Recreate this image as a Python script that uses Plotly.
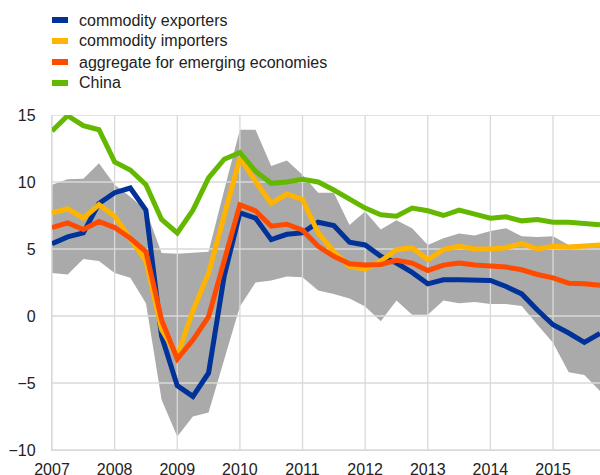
import plotly.graph_objects as go

# Quarterly observations, 2007 Q1 .. 2015 Q4
start_year = 2007
n_quarters = 36
quarters = [start_year + i / 4 for i in range(n_quarters)]

exporters = [5.4, 5.9, 6.2, 8.4, 9.2, 9.55, 7.9, -1.5, -5.2, -6.0, -4.25, 3.0,
             7.7, 7.3, 5.7, 6.1, 6.2, 7.0, 6.75, 5.5, 5.3, 4.45, 3.95, 3.25,
             2.4, 2.7, 2.7, 2.65, 2.65, 2.2, 1.65, 0.45, -0.65, -1.27, -1.97, -1.3]
importers = [7.7, 8.0, 7.3, 8.3, 7.45, 5.8, 4.1, -1.0, -3.0, 0.4, 3.2, 7.5,
             11.8, 10.05, 8.4, 9.1, 8.7, 6.2, 4.8, 3.7, 3.5, 4.1, 4.95, 5.1,
             4.2, 4.95, 5.2, 5.0, 5.0, 5.1, 5.4, 5.0, 5.2, 5.15, 5.2, 5.3]
aggregate = [6.6, 6.95, 6.45, 7.05, 6.6, 5.8, 4.8, -0.3, -3.2, -1.8, -0.05, 4.0,
             8.3, 7.85, 6.7, 6.85, 6.4, 5.2, 4.45, 3.9, 3.8, 3.85, 4.15, 3.95,
             3.4, 3.8, 3.95, 3.8, 3.75, 3.65, 3.45, 3.1, 2.85, 2.45, 2.4, 2.3]
china = [13.8, 14.95, 14.2, 13.9, 11.5, 10.9, 9.8, 7.2, 6.2, 7.9, 10.3, 11.7,
         12.2, 10.8, 9.9, 10.0, 10.2, 10.0, 9.4, 8.7, 8.05, 7.55, 7.45, 8.05,
         7.85, 7.5, 7.9, 7.6, 7.3, 7.4, 7.1, 7.2, 7.0, 7.0, 6.9, 6.8]
band_hi = [9.8, 10.2, 10.25, 11.4, 9.8, 8.9, 7.9, 4.7, 4.65, 4.7, 4.8, 9.4,
           13.9, 13.9, 11.2, 11.6, 10.55, 9.2, 9.2, 6.8, 7.8, 6.45, 7.15, 6.55,
           5.3, 5.8, 6.15, 6.0, 6.35, 6.55, 5.95, 5.9, 5.95, 5.3, 5.35, 5.4]
band_lo = [3.2, 3.1, 4.25, 4.1, 3.2, 2.85, 0.95, -6.25, -9.0, -7.5, -7.2, -3.2,
           0.7, 2.5, 2.65, 2.95, 2.9, 1.9, 1.65, 1.3, 0.7, -0.4, 1.15, 0.1,
           0.1, 1.15, 0.95, 1.05, 0.9, 0.9, 0.75, -0.65, -2.0, -4.2, -4.4, -5.6]

x_ticks = list(range(2007, 2016))
x_ticklabels = [str(y) for y in x_ticks]
y_ticks = [-10, -5, 0, 5, 10, 15]

series = [
    ("commodity exporters", exporters, "#003299"),
    ("commodity importers", importers, "#FFB400"),
    ("aggregate for emerging economies", aggregate, "#FF4B00"),
    ("China", china, "#65B800"),
]

X_MIN, X_MAX = 2007, 2015.75
Y_MIN, Y_MAX = -10, 15
GRID = "#d9d9d9"
FONT = "Arial, Liberation Sans, sans-serif"

fig = go.Figure()

# shaded range
fig.add_trace(go.Scatter(x=quarters, y=band_lo, mode="lines", line=dict(width=0),
                         showlegend=False, hoverinfo="skip"))
fig.add_trace(go.Scatter(x=quarters, y=band_hi, mode="lines", line=dict(width=0),
                         fill="tonexty", fillcolor="#aaaaaa", showlegend=False,
                         hoverinfo="skip", name="range"))

# gridlines drawn above the shaded band
gx, gy = [], []
for t in y_ticks:
    gx += [X_MIN, X_MAX, None]
    gy += [t, t, None]
for t in x_ticks:
    gx += [t, t, None]
    gy += [Y_MIN, Y_MAX, None]
fig.add_trace(go.Scatter(x=gx, y=gy, mode="lines", line=dict(color=GRID, width=1.3),
                         showlegend=False, hoverinfo="skip"))

for name, vals, col in series:
    fig.add_trace(go.Scatter(x=quarters, y=vals, mode="lines", name=name,
                             line=dict(color=col, width=5), showlegend=False))

# manual legend (pixel layout converted to paper coords)
L, R, T, B = 52, 0, 115, 25
W, H = 600, 475
pw, ph = W - L - R, H - T - B
def px_x(p):
    return (p - L) / pw
def px_y(p):
    return (H - B - p) / ph

shapes = []
annotations = []
rows = [20, 41, 62, 83]
for (name, vals, col), r in zip(series, rows):
    shapes.append(dict(type="rect", xref="paper", yref="paper",
                       x0=px_x(52), x1=px_x(68), y0=px_y(r + 3), y1=px_y(r - 3),
                       fillcolor=col, line=dict(width=0)))
    annotations.append(dict(xref="paper", yref="paper", x=px_x(77), y=px_y(r),
                            xanchor="left", yanchor="middle", text=name,
                            showarrow=False, font=dict(size=16, color="#222222", family=FONT)))

fig.update_layout(
    width=W, height=H,
    margin=dict(l=L, r=R, t=T, b=B, autoexpand=False),
    plot_bgcolor="white", paper_bgcolor="white",
    font=dict(family=FONT, size=16, color="#222222"),
    shapes=shapes, annotations=annotations,
    showlegend=False,
    xaxis=dict(range=[X_MIN, X_MAX], tickvals=x_ticks, ticktext=x_ticklabels,
               showgrid=False, zeroline=False, showline=True, linecolor=GRID,
               linewidth=1.3, ticks="", ticklabelstandoff=5, automargin=False),
    yaxis=dict(range=[Y_MIN, Y_MAX], tickvals=y_ticks, showgrid=False,
               zeroline=False, showline=True, linecolor=GRID, linewidth=1.3,
               ticks="", ticklabelstandoff=12, automargin=False),
)

fig.write_html(
    "out.html",
    config={"displayModeBar": False},
    post_script="document.body.style.margin='0';document.body.style.padding='0';"
                "document.body.style.overflow='hidden';",
)
